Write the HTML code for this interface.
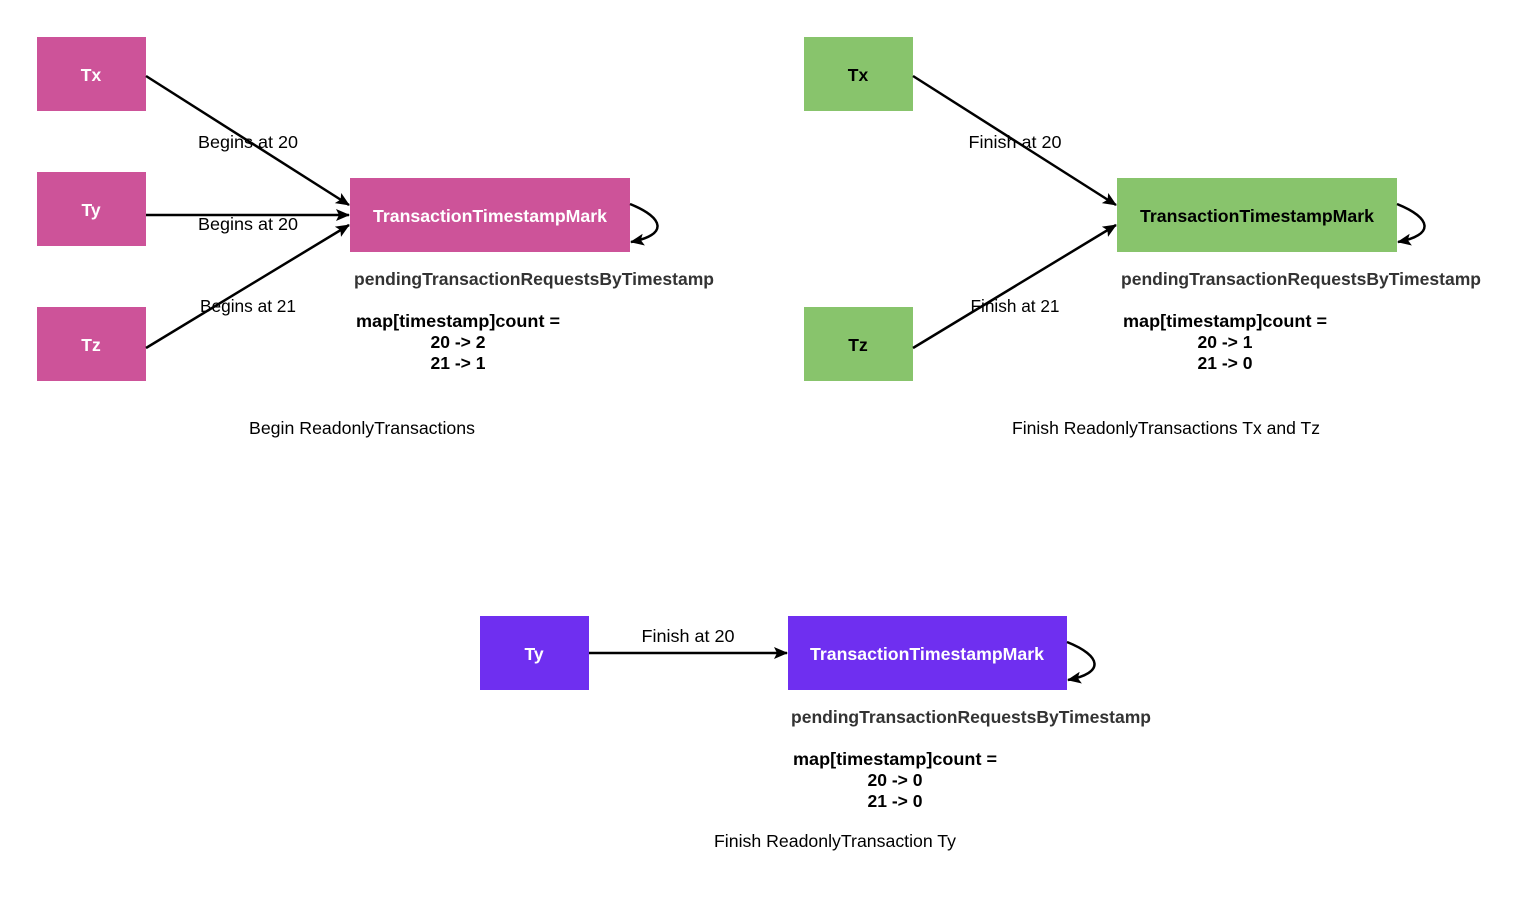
<!DOCTYPE html>
<html><head><meta charset="utf-8"><style>
body{margin:0;background:#fff;width:1523px;height:892px;overflow:hidden;font-family:"Liberation Sans",sans-serif}
</style></head><body>
<svg width="1523" height="892" xmlns="http://www.w3.org/2000/svg" font-family="Liberation Sans, sans-serif">
<defs><marker id="a" markerWidth="14" markerHeight="14" refX="13" refY="6" orient="auto" markerUnits="userSpaceOnUse"><path d="M0,0 L14,6 L0,12 L3,6 Z" fill="#000"/></marker></defs>
<g fill="#cd5399">
<rect x="37" y="37" width="109" height="74"/><rect x="37" y="172" width="109" height="74"/><rect x="37" y="307" width="109" height="74"/><rect x="350" y="178" width="280" height="74"/></g>
<g fill="#88c46c"><rect x="804" y="37" width="109" height="74"/><rect x="804" y="307" width="109" height="74"/><rect x="1117" y="178" width="280" height="74"/></g>
<g fill="#6f2ff0"><rect x="480" y="616" width="109" height="74"/><rect x="788" y="616" width="279" height="74"/></g>
<g stroke="#000" stroke-width="2.5" fill="none" marker-end="url(#a)">
<line x1="146" y1="76" x2="349" y2="205"/><line x1="146" y1="215" x2="349" y2="215"/><line x1="146" y1="348" x2="349" y2="225"/>
<path d="M630,204 C665,218 668,235 631,242"/>
<line x1="913" y1="76" x2="1116" y2="205"/><line x1="913" y1="348" x2="1116" y2="225"/>
<path d="M1397,204 C1432,218 1435,235 1398,242"/>
<line x1="589" y1="653" x2="787" y2="653"/>
<path d="M1067,642 C1102,656 1105,673 1068,680"/>
</g>
<g font-weight="bold" font-size="17.5" fill="#fff" text-anchor="middle">
<text x="91" y="81">Tx</text><text x="91" y="216">Ty</text><text x="91" y="351">Tz</text><text x="490" y="222" textLength="234" lengthAdjust="spacingAndGlyphs">TransactionTimestampMark</text>
<text x="534" y="660">Ty</text><text x="927" y="660" textLength="234" lengthAdjust="spacingAndGlyphs">TransactionTimestampMark</text></g>
<g font-weight="bold" font-size="17.5" fill="#000" text-anchor="middle">
<text x="858" y="81">Tx</text><text x="858" y="351">Tz</text><text x="1257" y="222" textLength="234" lengthAdjust="spacingAndGlyphs">TransactionTimestampMark</text></g>
<g font-size="17.5" fill="#000" text-anchor="middle">
<text x="248" y="148" textLength="100" lengthAdjust="spacingAndGlyphs">Begins at 20</text><text x="248" y="230" textLength="100" lengthAdjust="spacingAndGlyphs">Begins at 20</text><text x="248" y="312" textLength="96" lengthAdjust="spacingAndGlyphs">Begins at 21</text>
<text x="1015" y="148" textLength="93" lengthAdjust="spacingAndGlyphs">Finish at 20</text><text x="1015" y="312" textLength="89" lengthAdjust="spacingAndGlyphs">Finish at 21</text>
<text x="688" y="642" textLength="93" lengthAdjust="spacingAndGlyphs">Finish at 20</text>
<text x="362" y="434" textLength="226" lengthAdjust="spacingAndGlyphs">Begin ReadonlyTransactions</text>
<text x="1166" y="434" textLength="308" lengthAdjust="spacingAndGlyphs">Finish ReadonlyTransactions Tx and Tz</text>
<text x="835" y="847" textLength="242" lengthAdjust="spacingAndGlyphs">Finish ReadonlyTransaction Ty</text>
</g>
<g font-weight="bold" font-size="17.5" fill="#333">
<text x="354" y="285" textLength="360" lengthAdjust="spacingAndGlyphs">pendingTransactionRequestsByTimestamp</text>
<text x="1121" y="285" textLength="360" lengthAdjust="spacingAndGlyphs">pendingTransactionRequestsByTimestamp</text>
<text x="791" y="723" textLength="360" lengthAdjust="spacingAndGlyphs">pendingTransactionRequestsByTimestamp</text></g>
<g font-weight="bold" font-size="17.5" fill="#000" text-anchor="middle">
<text x="458" y="327" textLength="204" lengthAdjust="spacingAndGlyphs">map[timestamp]count =</text><text x="458" y="348">20 -&gt; 2</text><text x="458" y="369">21 -&gt; 1</text>
<text x="1225" y="327" textLength="204" lengthAdjust="spacingAndGlyphs">map[timestamp]count =</text><text x="1225" y="348">20 -&gt; 1</text><text x="1225" y="369">21 -&gt; 0</text>
<text x="895" y="765" textLength="204" lengthAdjust="spacingAndGlyphs">map[timestamp]count =</text><text x="895" y="786">20 -&gt; 0</text><text x="895" y="807">21 -&gt; 0</text>
</g>
</svg>
</body></html>
